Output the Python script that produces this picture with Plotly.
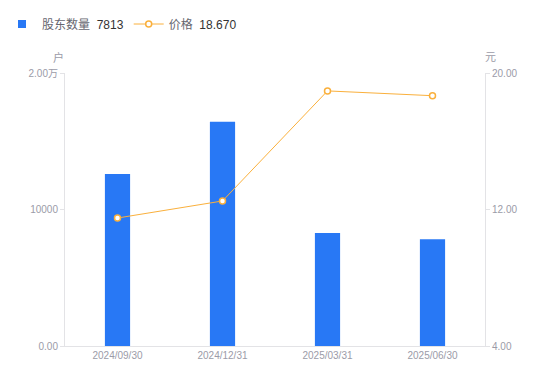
import plotly.graph_objects as go

categories = ["2024/09/30", "2024/12/31", "2025/03/31", "2025/06/30"]
holders = [12600, 16420, 8280, 7813]
prices = [11.50, 12.50, 18.95, 18.67]
left_ticks = [0, 10000, 20000]
left_labels = ["0.00", "10000", "2.00万"]
right_ticks = [4, 12, 20]
right_labels = ["4.00", "12.00", "20.00"]

FONT = "Liberation Sans, Arial, Noto Sans CJK SC, sans-serif"
GREY = "#9b9ba8"
AXIS = "#e3e3e6"
BLUE = "#2878f5"
ORANGE = "#fab03c"

W, H = 542, 373
L, R = 57, 65
PW = W - L - R

fig = go.Figure()
fig.add_trace(go.Bar(
    x=categories, y=holders, width=0.24, marker=dict(color=BLUE, line=dict(width=0)),
    showlegend=False, yaxis="y", name="股东数量",
))
# legend swatch for the bars (compact square like the reference)
fig.add_trace(go.Scatter(
    x=[None], y=[None], mode="markers", yaxis="y",
    marker=dict(symbol="square", size=8, color=BLUE),
    name="股东数量  <span style='color:#333333'>7813</span>",
))
fig.add_trace(go.Scatter(
    x=categories, y=prices, mode="lines+markers", yaxis="y2",
    line=dict(color=ORANGE, width=1),
    marker=dict(symbol="circle", size=6, color="white", line=dict(color=ORANGE, width=1.5)),
    name="价格  <span style='color:#333333'>18.670</span>",
))

fig.update_layout(
    width=W, height=H,
    margin=dict(l=L, r=R, t=65, b=35, autoexpand=False),
    paper_bgcolor="white", plot_bgcolor="white",
    font=dict(family=FONT, size=10, color=GREY),
    showlegend=True,
    legend=dict(orientation="h", xref="paper", yref="container",
                x=(-6 - L) / PW, y=1 - 16/H, xanchor="left", yanchor="middle",
                font=dict(size=12, color="#66666f"), itemwidth=30,
                bgcolor="rgba(0,0,0,0)"),
    xaxis=dict(type="category", range=[-0.5, 3.5], showgrid=False,
               showline=True, linecolor=AXIS, linewidth=1, ticks="",
               tickfont=dict(size=10, color=GREY), zeroline=False),
    yaxis=dict(range=[0, 20000], tickvals=left_ticks, ticktext=left_labels,
               showgrid=False, zeroline=False, showline=True, linecolor=AXIS,
               ticks="outside", ticklen=4, tickcolor=AXIS,
               tickfont=dict(size=10, color=GREY)),
    yaxis2=dict(range=[4, 20], tickvals=right_ticks, ticktext=right_labels,
                overlaying="y", side="right", showgrid=False, zeroline=False,
                showline=True, linecolor=AXIS, ticks="outside", ticklen=4,
                tickcolor=AXIS, tickfont=dict(size=10, color=GREY)),
    annotations=[
        dict(text="户", xref="paper", yref="paper", x=0, y=1, xshift=-7, yshift=16,
             yanchor="middle", showarrow=False, font=dict(size=11, color=GREY), xanchor="center"),
        dict(text="元", xref="paper", yref="paper", x=1, y=1, xshift=5, yshift=16,
             yanchor="middle", showarrow=False, font=dict(size=11, color=GREY), xanchor="center"),
    ],
)

fig.write_html("out.html")
